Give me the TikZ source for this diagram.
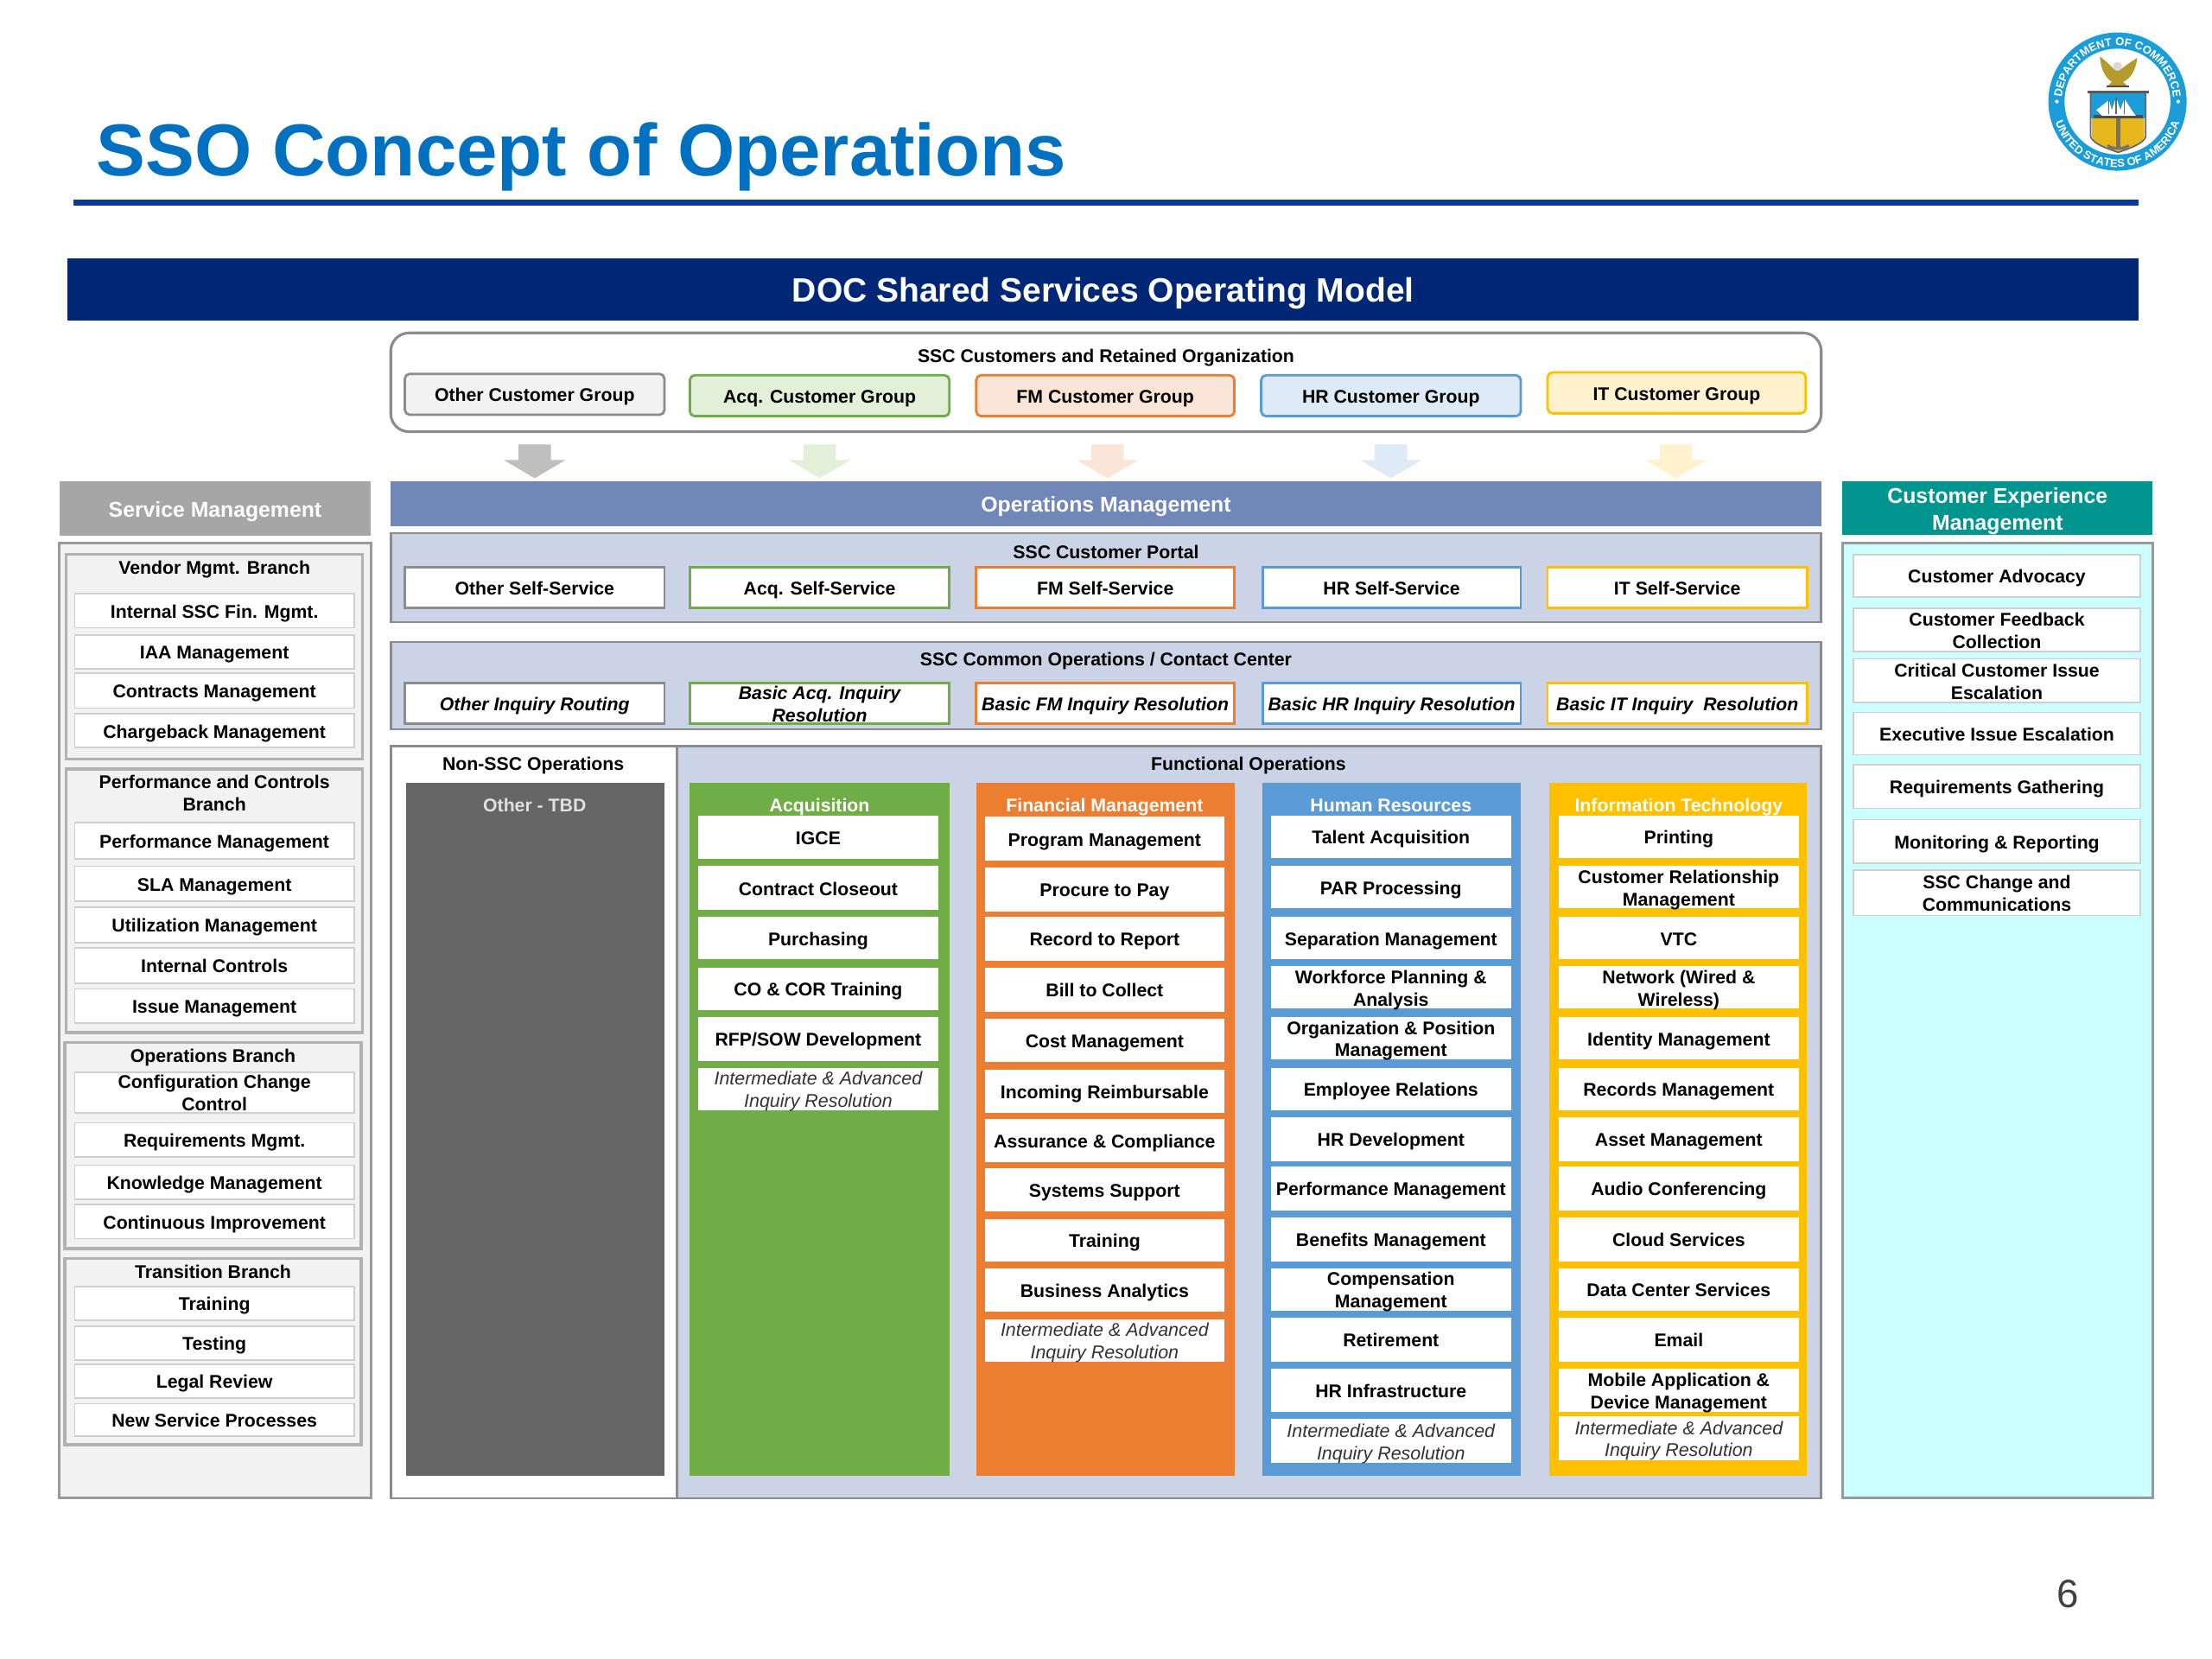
\documentclass[tikz,border=0pt]{standalone}
\usepackage{fontspec}
\setmainfont{Liberation Sans}
\usetikzlibrary{decorations.text}
\definecolor{cOtherF}{HTML}{F2F2F2}\definecolor{cOtherB}{HTML}{8C8C8C}
\definecolor{cAcqF}{HTML}{E2EFD9}\definecolor{cAcqB}{HTML}{70AD47}
\definecolor{cFmF}{HTML}{FBE5D6}\definecolor{cFmB}{HTML}{ED7D31}
\definecolor{cHrF}{HTML}{DEEAF6}\definecolor{cHrB}{HTML}{5B9BD5}
\definecolor{cItF}{HTML}{FFF2CC}\definecolor{cItB}{HTML}{FFC000}
\definecolor{cPanel}{HTML}{CBD3E6}\definecolor{cEdge}{HTML}{8C8C8C}
\definecolor{cLight}{HTML}{CFCFCF}\definecolor{cNavy}{HTML}{002776}
\definecolor{cRule}{HTML}{0B3A94}\definecolor{cTitle}{HTML}{0070C0}
\definecolor{cOps}{HTML}{7087B8}\definecolor{cTeal}{HTML}{00968F}
\definecolor{cCyan}{HTML}{CCFFFF}\definecolor{cSeal}{HTML}{1B9DD9}
\definecolor{cGold}{HTML}{E6B81E}\definecolor{cEagle}{HTML}{B59A2C}
\newcommand\fA{\fontsize{6.05}{7.35}\selectfont\bfseries}
\newcommand\fH{\fontsize{7.05}{8.9}\selectfont\bfseries}
\newcommand\fI{\fontsize{6.1}{7.35}\selectfont\itshape\color{black!80}}
\newcommand\fB{\fontsize{6.05}{7.35}\selectfont\bfseries\itshape}
\newcommand\sealfont{\fontsize{3.7}{4}\selectfont\bfseries\color{white}}
\newcommand\txt[1]{\raisebox{-0.4em}[0pt][0pt]{\begin{tabular}{@{}c@{}}#1\end{tabular}}}
\tikzset{
 x=0.016327cm,y=-0.016327cm,
 base/.style={rectangle,inner sep=0pt,outer sep=0pt,font=\fA},
 lbl/.style={base},
 panel/.style={base,draw=cEdge,line width=0.75pt},
 grp/.style={base,rounded corners=1.6pt,line width=0.8pt},
 grpO/.style={grp,draw=cOtherB,fill=cOtherF},
 grpA/.style={grp,draw=cAcqB,fill=cAcqF},
 grpF/.style={grp,draw=cFmB,fill=cFmF},
 grpH/.style={grp,draw=cHrB,fill=cHrF},
 grpI/.style={grp,draw=cItB,fill=cItF},
 selfbox/.style={base,fill=white,line width=0.8pt},
 branch/.style={base,draw=black!30,fill=cOtherF,line width=1pt},
 smitemst/.style={base,draw=cLight,fill=white,line width=0.5pt},
 colitemst/.style={base,fill=white},
 interst/.style={base,fill=white,font=\fI},
 column/.style={base},
 header/.style={base,font=\fH,text=white},
}
\newcommand\bx[7]{\node[#2,minimum width={(#5-#3)*0.016327cm},minimum height={(#6-#4)*0.016327cm}] (#1) at ({(#3+#5)/2},{(#4+#6)/2}) {\txt{#7}};}
\newcommand\tx[4][]{\node[lbl,#1] (#2) at (#3) {\txt{#4}};}
\newcommand\smitem[4]{\bx{#1}{smitemst}{53}{#2}{251}{#3}{#4}}
\newcommand\cxitem[4]{\bx{#1}{smitemst}{1314}{#2}{1517}{#3}{#4}}
\newcommand\colitem[5]{\bx{#1}{colitemst}{#2}{#3}{\numexpr#2+170\relax}{#4}{#5}}
\newcommand\colinter[5]{\bx{#1}{interst}{#2}{#3}{\numexpr#2+170\relax}{#4}{#5}}
\newcommand\barrow[3]{\coordinate (#1) at (#2,315);
 \fill[#3] (#1) ++(-11.5,0) -- ++(23,0) -- ++(0,11) -- ++(10.5,0) -- ++(-22,13) -- ++(-22,-13) -- ++(10.5,0) -- cycle;}
\begin{document}
\begin{tikzpicture}
\useasboundingbox (0,0) rectangle (1568,1176);
\fill[white] (0,0) rectangle (1568,1176);
% title
\node[anchor=base west,inner sep=0pt,font=\fontsize{24.25}{28}\selectfont\bfseries,text=cTitle] (title) at (68,124.5) {SSO Concept of Operations};
\fill[cRule] (52,141.5) rectangle (1516,145.5);
\node[anchor=center,inner sep=0pt] (pagenum) at (1466,1130) {\fontsize{13}{15}\selectfont\textcolor{black!75}{6}};
% banner
\bx{banner}{base,fill=cNavy,text=white,font=\fontsize{11.1}{13}\selectfont\bfseries}{48}{183}{1516}{227}{DOC Shared Services Operating Model}
% customers
\bx{custpanel}{base,draw=cEdge,fill=white,line width=0.9pt,rounded corners=6pt}{277}{236}{1291}{306}{}
\tx{custtitle}{784,252}{SSC Customers and Retained Organization}
\bx{gOther}{grpO}{287}{265}{471}{294}{Other Customer Group}
\bx{gAcq}{grpA}{489}{266}{673}{295}{Acq. Customer Group}
\bx{gFm}{grpF}{692}{266}{875}{295}{FM Customer Group}
\bx{gHr}{grpH}{894}{266}{1078}{295}{HR Customer Group}
\bx{gIt}{grpI}{1097}{264}{1280}{293}{IT Customer Group}
% block arrows
\barrow{arrOther}{379}{black!25}
\barrow{arrAcq}{581}{cAcqF}
\barrow{arrFm}{785}{cFmF}
\barrow{arrHr}{986}{cHrF}
\barrow{arrIt}{1188}{cItF}
% headers
\bx{hService}{header,fill=black!35}{42}{341}{263}{380}{Service Management}
\bx{hOps}{header,fill=cOps}{277}{341}{1291}{373}{Operations Management}
\bx{hCx}{header,fill=cTeal}{1306}{341}{1526}{379}{Customer Experience\\Management}
% portal
\bx{portal}{panel,fill=cPanel}{277}{378}{1291}{441}{}
\tx{portaltitle}{784,391}{SSC Customer Portal}
\bx{sOther}{selfbox,draw=cOtherB}{287}{402}{471}{431}{Other Self-Service}
\bx{sAcq}{selfbox,draw=cAcqB}{489}{402}{673}{431}{Acq. Self-Service}
\bx{sFm}{selfbox,draw=cFmB}{692}{402}{875}{431}{FM Self-Service}
\bx{sHr}{selfbox,draw=cHrB}{895}{402}{1078}{431}{HR Self-Service}
\bx{sIt}{selfbox,draw=cItB}{1097}{402}{1281}{431}{IT Self-Service}
% common
\bx{common}{panel,fill=cPanel}{277}{455}{1291}{517}{}
\tx{commontitle}{784,467}{SSC Common Operations / Contact Center}
\bx{iOther}{selfbox,draw=cOtherB,font=\fB}{287}{484}{471}{513}{Other Inquiry Routing}
\bx{iAcq}{selfbox,draw=cAcqB,font=\fB}{489}{484}{673}{513}{Basic Acq. Inquiry\\Resolution}
\bx{iFm}{selfbox,draw=cFmB,font=\fB}{692}{484}{875}{513}{Basic FM Inquiry Resolution}
\bx{iHr}{selfbox,draw=cHrB,font=\fB}{895}{484}{1078}{513}{Basic HR Inquiry Resolution}
\bx{iIt}{selfbox,draw=cItB,font=\fB}{1097}{484}{1281}{513}{Basic IT Inquiry\ \ Resolution}
% bottom panel
\bx{funcpanel}{panel,fill=cPanel}{480}{529}{1291}{1062}{}
\bx{nonssc}{panel,fill=white}{277}{529}{480}{1062}{}
\tx{nonssctitle}{378,541}{Non-SSC Operations}
\tx{functitle}{885,541}{Functional Operations}
\bx{colOther}{column,fill=black!60}{288}{555}{471}{1046}{}
\tx[text=black!12]{colOtherT}{379,570}{Other - TBD}
\bx{colAcq}{column,fill=cAcqB}{489}{555}{673}{1046}{}
\bx{colFm}{column,fill=cFmB}{692}{555}{875}{1046}{}
\bx{colHr}{column,fill=cHrB}{895}{555}{1078}{1046}{}
\bx{colIt}{column,fill=cItB}{1098}{555}{1281}{1046}{}
\tx[text=white]{colAcqT}{581,570}{Acquisition}
\tx[text=white]{colFmT}{783,570}{Financial Management}
\tx[text=white]{colHrT}{986,570}{Human Resources}
\tx[text=white]{colItT}{1190,570}{Information Technology}
% acquisition
\colitem{a1}{495}{578}{609}{IGCE}
\colitem{a2}{495}{614}{645}{Contract Closeout}
\colitem{a3}{495}{650}{680}{Purchasing}
\colitem{a4}{495}{686}{716}{CO \& COR Training}
\colitem{a5}{495}{721}{752}{RFP/SOW Development}
\colinter{a6}{495}{757}{787}{Intermediate \& Advanced\\Inquiry Resolution}
% financial
\colitem{f1}{698}{579}{610}{Program Management}
\colitem{f2}{698}{615}{646}{Procure to Pay}
\colitem{f3}{698}{650}{681}{Record to Report}
\colitem{f4}{698}{686}{717}{Bill to Collect}
\colitem{f5}{698}{722}{753}{Cost Management}
\colitem{f6}{698}{758}{789}{Incoming Reimbursable}
\colitem{f7}{698}{793}{824}{Assurance \& Compliance}
\colitem{f8}{698}{828}{859}{Systems Support}
\colitem{f9}{698}{864}{894}{Training}
\colitem{f10}{698}{899}{930}{Business Analytics}
\colinter{f11}{698}{935}{965}{Intermediate \& Advanced\\Inquiry Resolution}
% hr
\colitem{h1}{901}{578}{608}{Talent Acquisition}
\colitem{h2}{901}{614}{644}{PAR Processing}
\colitem{h3}{901}{650}{680}{Separation Management}
\colitem{h4}{901}{685}{715}{Workforce Planning \&\\Analysis}
\colitem{h5}{901}{721}{751}{Organization \& Position\\Management}
\colitem{h6}{901}{757}{787}{Employee Relations}
\colitem{h7}{901}{792}{823}{HR Development}
\colitem{h8}{901}{827}{858}{Performance Management}
\colitem{h9}{901}{863}{894}{Benefits Management}
\colitem{h10}{901}{899}{929}{Compensation\\Management}
\colitem{h11}{901}{934}{965}{Retirement}
\colitem{h12}{901}{970}{1001}{HR Infrastructure}
\colinter{h13}{901}{1006}{1037}{Intermediate \& Advanced\\Inquiry Resolution}
% it
\colitem{t1}{1105}{578}{608}{Printing}
\colitem{t2}{1105}{614}{644}{Customer Relationship\\Management}
\colitem{t3}{1105}{650}{680}{VTC}
\colitem{t4}{1105}{685}{715}{Network (Wired \&\\Wireless)}
\colitem{t5}{1105}{721}{751}{Identity Management}
\colitem{t6}{1105}{757}{787}{Records Management}
\colitem{t7}{1105}{792}{823}{Asset Management}
\colitem{t8}{1105}{827}{858}{Audio Conferencing}
\colitem{t9}{1105}{863}{894}{Cloud Services}
\colitem{t10}{1105}{899}{929}{Data Center Services}
\colitem{t11}{1105}{934}{965}{Email}
\colitem{t12}{1105}{970}{1001}{Mobile Application \&\\Device Management}
\colinter{t13}{1105}{1004}{1035}{Intermediate \& Advanced\\Inquiry Resolution}
% service management
\bx{smpanel}{base,draw=black!40,fill=cOtherF,line width=0.9pt}{42}{385}{263}{1062}{}
\bx{bVendor}{branch}{47}{393}{257}{538}{}
\tx{bVendorT}{152,402}{Vendor Mgmt. Branch}
\smitem{v1}{421}{445}{Internal SSC Fin. Mgmt.}
\smitem{v2}{450}{474}{IAA Management}
\smitem{v3}{477}{502}{Contracts Management}
\smitem{v4}{506}{530}{Chargeback Management}
\bx{bPerf}{branch}{47}{545}{257}{732}{}
\tx{bPerfT}{152,561.5}{Performance and Controls\\Branch}
\smitem{p1}{583}{609}{Performance Management}
\smitem{p2}{614}{639}{SLA Management}
\smitem{p3}{643}{668}{Utilization Management}
\smitem{p4}{672}{697}{Internal Controls}
\smitem{p5}{701}{725}{Issue Management}
\bx{bOps}{branch}{46}{739}{256}{885}{}
\tx{bOpsT}{151,748}{Operations Branch}
\smitem{o1}{760}{789}{Configuration Change\\Control}
\smitem{o2}{796}{820}{Requirements Mgmt.}
\smitem{o3}{826}{850}{Knowledge Management}
\smitem{o4}{854}{878}{Continuous Improvement}
\bx{bTrans}{branch}{46}{892}{256}{1024}{}
\tx{bTransT}{151,901}{Transition Branch}
\smitem{r1}{912}{936}{Training}
\smitem{r2}{940}{964}{Testing}
\smitem{r3}{967}{991}{Legal Review}
\smitem{r4}{995}{1018}{New Service Processes}
% customer experience
\bx{cxpanel}{base,draw=black!40,fill=cCyan,line width=0.9pt}{1306}{385}{1526}{1062}{}
\cxitem{x1}{393}{423}{Customer Advocacy}
\cxitem{x2}{431}{462}{Customer Feedback\\Collection}
\cxitem{x3}{467}{498}{Critical Customer Issue\\Escalation}
\cxitem{x4}{505}{535}{Executive Issue Escalation}
\cxitem{x5}{542}{573}{Requirements Gathering}
\cxitem{x6}{581}{612}{Monitoring \& Reporting}
\cxitem{x7}{617}{649}{SSC Change and\\Communications}
% seal
\fill[cSeal] (1501,72) circle (49);
\fill[white] (1501,72) circle (37.5);
\path[decorate,decoration={text along path,text align=center,text={|\sealfont|DEPARTMENT OF COMMERCE}}]
  (1501,72) ++(-176:39.5) arc[start angle=-176,end angle=-4,radius=39.5];
\path[decorate,decoration={text along path,text align=center,text={|\sealfont|UNITED STATES OF AMERICA}}]
  (1501,72) ++(168:46.5) arc[start angle=168,end angle=12,radius=46.5];
\fill[white] (1458,72) circle (1.3) (1544,72) circle (1.3);
% eagle
\fill[cEagle] (1488.5,40) .. controls (1494,44) and (1497,48) .. (1500,50) -- (1502,50) .. controls (1505,48) and (1510,44) .. (1515,41) .. controls (1514,50) and (1510,56) .. (1505,58) -- (1508,61) -- (1494,61) -- (1497,58) .. controls (1492,55) and (1489,48) .. (1488.5,40) -- cycle;
\fill[black!15] (1501,47) circle (3.2);
\fill[black!70] (1493,60.5) rectangle (1509,62);
% shield
\fill[cGold] (1483,84) -- (1520,84) -- (1520,97) .. controls (1518,102) and (1510,105) .. (1501.5,108) .. controls (1493,105) and (1485,102) .. (1483,97) -- cycle;
\fill[cSeal] (1482,66) rectangle (1521,84);
\fill[black!65] (1480,64) rectangle (1523,66);
\draw[black!60,line width=0.5pt] (1482,66) -- (1482,97) .. controls (1484,102) and (1493,105) .. (1501.5,108) .. controls (1510,105) and (1519,102) .. (1521,97) -- (1521,66);
% ship
\fill[black!70] (1484,81.5) rectangle (1519,84);
\fill[white] (1486,78) -- (1495,71) -- (1497,78) -- (1500,69) -- (1503,78) -- (1506,70) -- (1511,78) -- (1514,82) -- (1490,82) -- cycle;
\draw[black!60,line width=0.35pt] (1495,71) -- (1495,81) (1500,69) -- (1500,81) (1506,70) -- (1506,81);
% anchor
\draw[black!55,line width=1.2pt] (1501.5,84) -- (1501.5,106);
\draw[black!55,line width=0.9pt] (1494,103) .. controls (1497,106) and (1506,106) .. (1509,103);
\end{tikzpicture}
\end{document}
